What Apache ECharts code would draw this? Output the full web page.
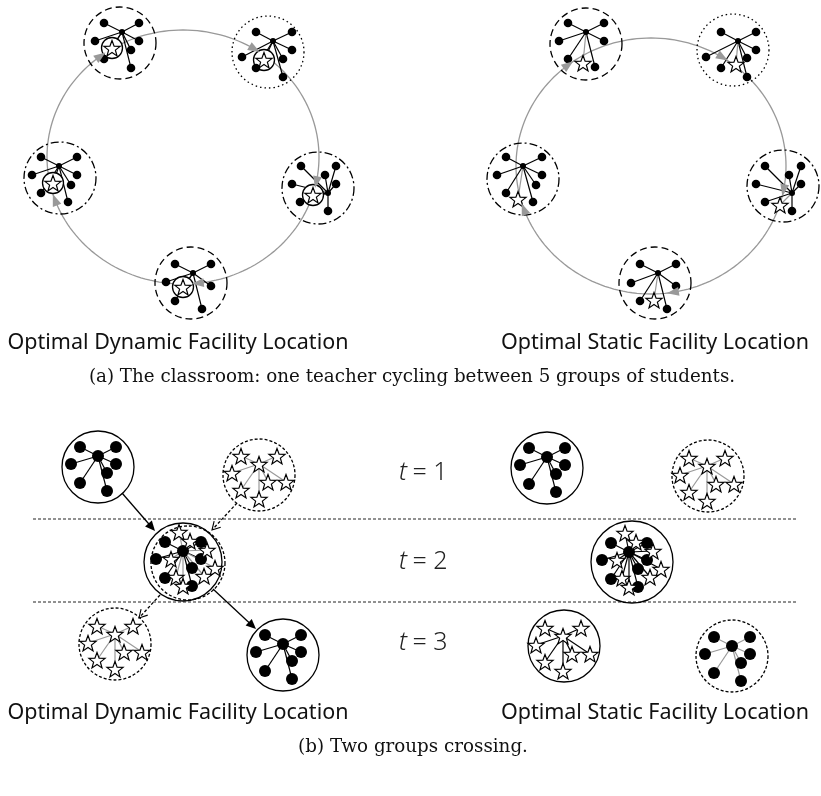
<!DOCTYPE html>
<html>
<head>
<meta charset="utf-8">
<script src="https://cdn.jsdelivr.net/npm/echarts@6/dist/echarts.min.js"></script>
<style>
    html, body { margin: 0; padding: 0; background: #fff; }
    #main { width: 821px; height: 796px; }
</style>
</head>
<body>
<div id="main"></div>
<script>
// ---- (a) the classroom: teacher cycling over 5 groups ----
// cycle ellipse: cx, cy, rx, ry
const cycleDyn = [183, 157, 136, 127];
const cycleStat = [651, 166, 135, 128];

// group boundary circles and their line kind (1 dashed, 2 dotted, 3 dash-dot)
const dynRings = [[120, 43], [268, 52], [60, 178], [318, 188], [191, 283]];
const statRings = [[586, 44], [733, 50], [523, 179], [783, 186], [655, 283]];
const ringKindsA = [1, 2, 3, 3, 1];

const dynHubs = [[122, 32], [273, 41], [59, 166], [328, 193], [193, 273]];
const statHubs = [[586, 32], [738, 41], [523, 166], [792, 193], [658, 273]];

const dynMembers = [
    [[104, 23], [139, 23], [95, 41], [139, 41], [131, 50], [104, 59], [131, 68]],
    [[256, 32], [292, 32], [242, 57], [292, 50], [283, 59], [256, 68], [283, 77]],
    [[41, 157], [77, 157], [32, 175], [77, 175], [71, 185], [41, 193], [68, 202]],
    [[301, 166], [336, 166], [325, 175], [336, 184], [292, 184], [300, 202], [328, 211]],
    [[175, 264], [211, 264], [166, 282], [211, 286], [175, 301], [202, 309]]
];
const statMembers = [
    [[568, 23], [604, 23], [559, 41], [604, 41], [568, 59], [595, 67]],
    [[721, 32], [756, 32], [706, 57], [756, 50], [747, 58], [721, 68], [747, 77]],
    [[506, 157], [542, 157], [497, 175], [542, 175], [536, 185], [506, 193], [533, 202]],
    [[765, 166], [801, 166], [756, 184], [789, 175], [801, 184], [765, 202], [792, 211]],
    [[640, 264], [676, 264], [631, 283], [676, 286], [640, 301], [667, 309]]
];

// teacher (star) positions
const dynFacility = [[112, 48], [264, 60], [53, 183], [313, 195], [183, 287]];
const statFacility = [[583, 63], [736, 64], [518, 199], [780, 205], [654, 300]];

// arrowheads along each cycle
const dynArrows = [[100, 55], [252, 53], [315, 182], [198, 285], [60, 198]];
const statArrows = [[571, 68], [723, 57], [782, 190], [673, 293], [524, 209]];

// ---- (b) two groups crossing ----
const dotShape = [[-18, -9], [18, -9], [-27, 8], [18, 8], [9, 17], [-18, 27], [9, 35]];
const starShape = [[-18, -8], [18, -8], [-27, 9], [9, 18], [27, 18], [-18, 26], [0, 35]];
const mixStarShape = [[-4, -19], [7, -10], [24, -1], [-12, 8], [32, 17], [21, 25], [-7, 26], [0, 35]];

// hub x, hub y, edge colour (0 black, 1 grey)
const dotGroupsB = [[98, 456, 0], [283, 644, 0], [183, 551, 0], [547, 457, 0], [732, 646, 1], [629, 552, 0]];
const starGroupsB = [[259, 464, 1], [115, 634, 1], [563, 636, 0], [707, 466, 1]];
const mixGroupsB = [[183, 551, 1], [629, 552, 0]];

// cx, cy, r, kind (0 solid, 4 fine dashed)
const ringsB = [
    [98, 467, 36, 0], [259, 475, 36, 4], [183, 562, 39, 0], [188, 563, 37, 4],
    [115, 644, 36, 4], [283, 655, 36, 0],
    [547, 468, 36, 0], [708, 476, 36, 4], [632, 562, 41, 0], [564, 646, 36, 0], [732, 656, 36, 4]
];
const dividersB = [519, 602];
const timeLabels = ['1', '2', '3'];
const timeRows = [473, 562, 643];
// x1, y1, x2, y2, kind (0 solid, 1 dashed)
const moveArrowsB = [[122, 493, 155, 531, 0], [237, 503, 212, 530, 1], [160, 595, 139, 618, 1], [213, 589, 256, 629, 0]];

const dashes = [null, [7, 4], [1.5, 3], [8, 3, 2, 3], [3, 2]];
const edgeColors = ['#000', '#999'];

// ---- flatten into drawable lists ----
const segs = [];      // x1, y1, x2, y2, colour
const dots = [];      // x, y, kind
const stars = [];     // x, y, kind
const facCircles = [];
const rings = [];

function addCycleGroups(hubs, members, facs, ringPos, withCircle) {
    hubs.forEach((h, i) => {
        rings.push([ringPos[i][0], ringPos[i][1], 36, ringKindsA[i]]);
        members[i].forEach(m => {
            segs.push([h[0], h[1], m[0], m[1], 0]);
            dots.push([m[0], m[1], 0]);
        });
        segs.push([h[0], h[1], facs[i][0], facs[i][1], withCircle ? 0 : 1]);
        dots.push([h[0], h[1], 1]);
        if (withCircle) facCircles.push([facs[i][0], facs[i][1]]);
        stars.push([facs[i][0], facs[i][1], 0]);
    });
}
addCycleGroups(dynHubs, dynMembers, dynFacility, dynRings, true);
addCycleGroups(statHubs, statMembers, statFacility, statRings, false);

ringsB.forEach(r => rings.push(r));
dotGroupsB.forEach(g => {
    dotShape.forEach(o => {
        segs.push([g[0], g[1], g[0] + o[0], g[1] + o[1], g[2]]);
        dots.push([g[0] + o[0], g[1] + o[1], 2]);
    });
    dots.push([g[0], g[1], 2]);
});
mixGroupsB.forEach(g => {
    mixStarShape.forEach(o => {
        segs.push([g[0], g[1], g[0] + o[0], g[1] + o[1], g[2]]);
        stars.push([g[0] + o[0], g[1] + o[1], 1]);
    });
});
starGroupsB.forEach(g => {
    starShape.forEach(o => {
        segs.push([g[0], g[1], g[0] + o[0], g[1] + o[1], g[2]]);
        stars.push([g[0] + o[0], g[1] + o[1], 1]);
    });
    stars.push([g[0], g[1], 1]);
});

const cycleArrows = [];
dynArrows.forEach(a => cycleArrows.push([a[0], a[1], 0]));
statArrows.forEach(a => cycleArrows.push([a[0], a[1], 1]));
const cycles = [cycleDyn, cycleStat];

// ---- helpers ----
function starPoints(cx, cy, R) {
    const pts = [];
    for (let i = 0; i < 10; i++) {
        const a = -Math.PI / 2 + i * Math.PI / 5;
        const rr = i % 2 ? R * 0.42 : R;
        pts.push([cx + rr * Math.cos(a), cy + rr * Math.sin(a)]);
    }
    return pts;
}

function headPoints(tip, ux, uy, len, half) {
    const bx = tip[0] - ux * len, by = tip[1] - uy * len;
    return [tip, [bx - uy * half, by + ux * half], [bx + uy * half, by - ux * half]];
}

const chart = echarts.init(document.getElementById('main'));

const textStyle = (x, y, text, font, size, extra) => ({
    type: 'text',
    x: x, y: y,
    style: Object.assign({
        text: text, fontFamily: font, fontSize: size, fill: '#111',
        textAlign: 'center', textVerticalAlign: 'middle'
    }, extra || {})
});

const graphics = [
    textStyle(178, 343, 'Optimal Dynamic Facility Location', 'Noto Sans', 21.5),
    textStyle(655, 343, 'Optimal Static Facility Location', 'Noto Sans', 21.5),
    textStyle(412, 377, '(a) The classroom: one teacher cycling between 5 groups of students.', 'DejaVu Serif', 18.3),
    textStyle(178, 713, 'Optimal Dynamic Facility Location', 'Noto Sans', 21.5),
    textStyle(655, 713, 'Optimal Static Facility Location', 'Noto Sans', 21.5),
    textStyle(413, 747, '(b) Two groups crossing.', 'DejaVu Serif', 18.3)
];
timeLabels.forEach((t, i) => {
    graphics.push(textStyle(403, timeRows[i], 't', 'Noto Sans', 25, { fontStyle: 'italic', fontWeight: 300, fill: '#222' }));
    graphics.push(textStyle(430, timeRows[i], '= ' + t, 'Noto Sans', 25, { fontWeight: 300, fill: '#222' }));
});

const option = {
    animation: false,
    backgroundColor: '#fff',
    grid: { left: 0, right: 0, top: 0, bottom: 0 },
    xAxis: { type: 'value', min: 0, max: 821, show: false },
    yAxis: { type: 'value', min: 0, max: 796, inverse: true, show: false },
    graphic: graphics,
    series: [
        {
            // cycle paths
            type: 'custom',
            data: cycles,
            renderItem: (params, api) => {
                const pts = [];
                for (let k = 0; k <= 180; k++) {
                    const t = k / 180 * Math.PI * 2;
                    pts.push(api.coord([api.value(0) + api.value(2) * Math.cos(t), api.value(1) + api.value(3) * Math.sin(t)]));
                }
                return { type: 'polyline', shape: { points: pts }, style: { fill: 'none', stroke: '#999', lineWidth: 1.3 } };
            }
        },
        {
            // dividers between time steps
            type: 'custom',
            data: dividersB.map(y => [33, y, 798, y]),
            renderItem: (params, api) => {
                const a = api.coord([api.value(0), api.value(1)]);
                const b = api.coord([api.value(2), api.value(3)]);
                return { type: 'line', shape: { x1: a[0], y1: a[1], x2: b[0], y2: b[1] }, style: { stroke: '#222', lineWidth: 1, lineDash: [3, 2] } };
            }
        },
        {
            // group boundaries
            type: 'custom',
            data: rings,
            renderItem: (params, api) => {
                const c = api.coord([api.value(0), api.value(1)]);
                const r = api.size([api.value(2), 0])[0];
                return { type: 'circle', shape: { cx: c[0], cy: c[1], r: r }, style: { fill: 'none', stroke: '#000', lineWidth: 1.3, lineDash: dashes[api.value(3)] } };
            }
        },
        {
            // assignment edges
            type: 'custom',
            data: segs,
            renderItem: (params, api) => {
                const a = api.coord([api.value(0), api.value(1)]);
                const b = api.coord([api.value(2), api.value(3)]);
                return { type: 'line', shape: { x1: a[0], y1: a[1], x2: b[0], y2: b[1] }, style: { stroke: edgeColors[api.value(4)], lineWidth: 1.2 } };
            }
        },
        {
            // circle around dynamic teacher
            type: 'custom',
            data: facCircles,
            renderItem: (params, api) => {
                const c = api.coord([api.value(0), api.value(1)]);
                return { type: 'circle', shape: { cx: c[0], cy: c[1], r: 10.5 }, style: { fill: '#fff', stroke: '#000', lineWidth: 1.3 } };
            }
        },
        {
            // students
            type: 'custom',
            data: dots,
            renderItem: (params, api) => {
                const c = api.coord([api.value(0), api.value(1)]);
                const r = [4.3, 3, 6][api.value(2)];
                return { type: 'circle', shape: { cx: c[0], cy: c[1], r: r }, style: { fill: '#000' } };
            }
        },
        {
            // stars
            type: 'custom',
            data: stars,
            renderItem: (params, api) => {
                const c = api.coord([api.value(0), api.value(1)]);
                const R = [8.5, 8.5][api.value(2)];
                return { type: 'polygon', shape: { points: starPoints(c[0], c[1] + 1, R) }, style: { fill: '#fff', stroke: '#000', lineWidth: 1.2 } };
            }
        },
        {
            // arrowheads along the cycles
            type: 'custom',
            data: cycleArrows,
            renderItem: (params, api) => {
                const cyc = cycles[api.value(2)];
                const t = Math.atan2((api.value(1) - cyc[1]) / cyc[3], (api.value(0) - cyc[0]) / cyc[2]);
                const p = [cyc[0] + cyc[2] * Math.cos(t), cyc[1] + cyc[3] * Math.sin(t)];
                let ux = -cyc[2] * Math.sin(t), uy = cyc[3] * Math.cos(t);
                const n = Math.hypot(ux, uy);
                ux /= n; uy /= n;
                const c = api.coord(p);
                const tip = [c[0] + ux * 6, c[1] + uy * 6];
                return { type: 'polygon', shape: { points: headPoints(tip, ux, uy, 12, 4.5) }, style: { fill: '#999' } };
            }
        },
        {
            // movement arrows in (b)
            type: 'custom',
            data: moveArrowsB,
            renderItem: (params, api) => {
                const a = api.coord([api.value(0), api.value(1)]);
                const b = api.coord([api.value(2), api.value(3)]);
                let ux = b[0] - a[0], uy = b[1] - a[1];
                const n = Math.hypot(ux, uy);
                ux /= n; uy /= n;
                const dashed = api.value(4) === 1;
                const children = [{
                    type: 'line',
                    shape: { x1: a[0], y1: a[1], x2: b[0] - ux * (dashed ? 1 : 6), y2: b[1] - uy * (dashed ? 1 : 6) },
                    style: { stroke: '#000', lineWidth: 1.3, lineDash: dashed ? [3, 2] : null }
                }];
                const h = headPoints(b, ux, uy, dashed ? 8 : 10, 4.5);
                if (dashed) {
                    children.push({ type: 'polyline', shape: { points: [h[1], h[0], h[2]] }, style: { fill: 'none', stroke: '#000', lineWidth: 1.1 } });
                } else {
                    children.push({ type: 'polygon', shape: { points: h }, style: { fill: '#000' } });
                }
                return { type: 'group', children: children };
            }
        }
    ]
};

chart.setOption(option);
</script>
</body>
</html>
